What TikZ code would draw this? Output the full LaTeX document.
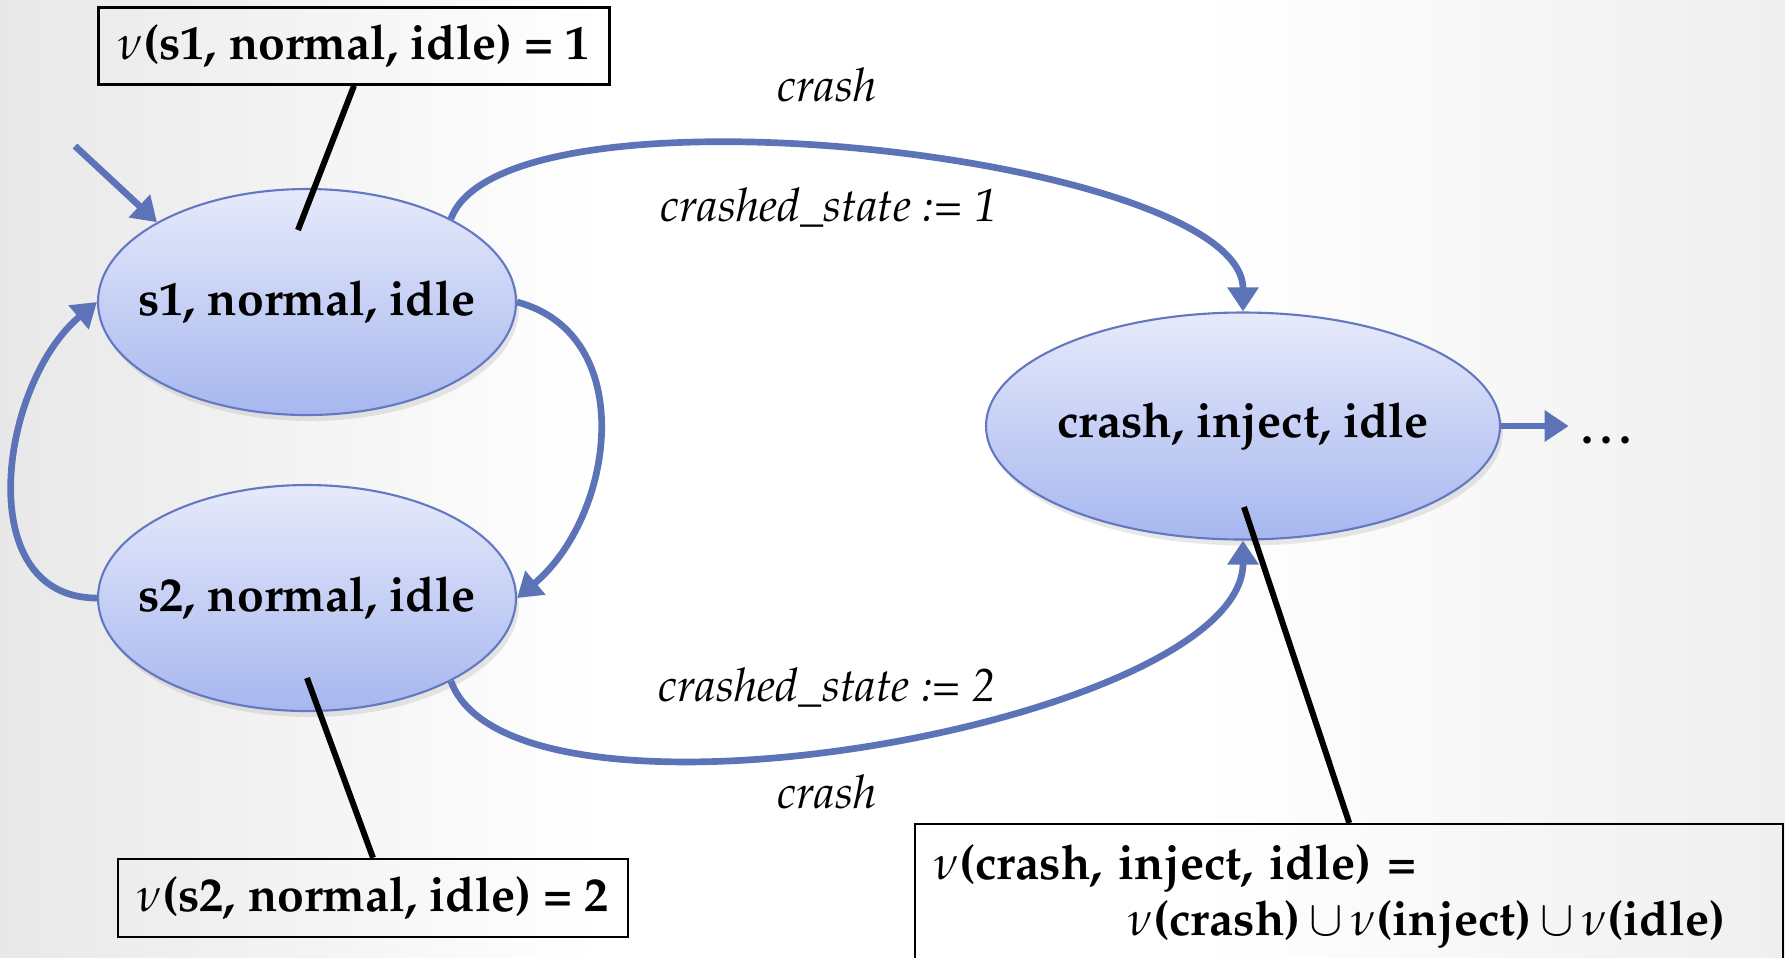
\documentclass[tikz,border=0pt]{standalone}
\usepackage[T1]{fontenc}
\usepackage{mathpazo}
\usepackage{xcolor}
\usetikzlibrary{arrows.meta,shapes,positioning,calc,shadows}

\definecolor{edgeblue}{RGB}{93,115,184}
\definecolor{stateline}{RGB}{100,120,193}
\definecolor{statetop}{RGB}{230,234,251}
\definecolor{statebot}{RGB}{167,183,239}
\definecolor{slidegray}{RGB}{232,232,232}

\newcommand{\bigbf}{\fontsize{13.7}{16}\selectfont\bfseries}
\newcommand{\bigit}{\fontsize{13.2}{16}\selectfont\itshape}

\begin{document}
\begin{tikzpicture}[
    state/.style={shape=ellipse, draw=stateline, line width=0.6pt,
        top color=statetop, bottom color=statebot,
        minimum width=4.18cm, minimum height=2.26cm, inner xsep=-6mm,
        font=\bigbf,
        drop shadow={opacity=0.18, shadow xshift=0.3mm, shadow yshift=-0.6mm}},
    valbox/.style={shape=rectangle, draw=black, line width=0.7pt, font=\bigbf},
    trans/.style={draw=edgeblue, line width=1.9pt, -{Triangle[length=2.4mm,width=3mm]}},
    tag/.style={draw=black, line width=1.7pt},
    act/.style={font=\bigit}
]
    \clip (0,0) rectangle (17.85,-9.57);
    % slide background: white, greying off towards the sides
    \fill[white] (0,0) rectangle (17.85,-9.57);
    \shade[left color=slidegray, right color=white] (0,0) rectangle (6,-9.57);
    \shade[left color=white, right color=slidegray!70] (12,0) rectangle (17.85,-9.57);

    \node[state] (s1) at (3.07,-3.02) {s1, normal, idle};
    \node[state] (s2) at (3.07,-5.98) {s2, normal, idle};
    \node[state, minimum width=5.14cm, minimum height=2.27cm] (crash) at (12.43,-4.26) {crash, inject, idle};
    \node[font=\bigbf, text height=1.5ex, text depth=0.25ex] (more) at (16.1,-4.33) {\dots};

    \node[valbox, minimum width=5.11cm, minimum height=0.77cm] (v1) at (3.54,-0.46) {$\nu$(s1, normal, idle) = 1};
    \node[valbox, minimum width=5.10cm, minimum height=0.78cm] (v2) at (3.73,-8.98) {$\nu$(s2, normal, idle) = 2};
    \node[valbox, anchor=north west, text width=8.3cm, align=left, inner xsep=0.19cm, inner ysep=0.2cm] (v3) at (9.14,-8.23)
        {$\nu$(crash, inject, idle) =\\\hspace*{1.94cm}$\nu$(crash)\,$\cup$\,$\nu$(inject)\,$\cup$\,$\nu$(idle)};

    \coordinate (init) at (0.75,-1.46);
    \coordinate (s1tag) at (2.98,-2.30);
    \coordinate (s2tag) at (3.07,-6.78);
    \coordinate (crashtag) at (12.44,-5.07);

    %\path [->](init) (s1);
    \draw[trans] (init) -- (s1.152);
    \draw[trans] (s1.east) to[out=-15, in=40, looseness=1.1] (s2.east);
    \draw[trans] (s2.west) to[out=180, in=220, looseness=1.1] (s1.west);
    \draw[trans] (s1.30) to[out=70, in=90, looseness=0.5]
        node[act, midway, xshift=-0.4cm, yshift=0.67cm] {crash}
        node[act, midway, xshift=-0.38cm, yshift=-0.56cm] {crashed\_state := 1} (crash.north);
    \draw[trans] (s2.-30) to[out=-70, in=-90, looseness=0.58]
        node[act, midway, xshift=-0.43cm, yshift=0.56cm] {crashed\_state := 2}
        node[act, midway, xshift=-0.43cm, yshift=-0.49cm] {crash} (crash.south);
    \draw[trans] (crash.east) -- (crash.east -| more.west);

    \draw[tag] (v1.south) -- (s1tag);
    \draw[tag] (v2.north) -- (s2tag);
    \draw[tag] (v3.north) -- (crashtag);
\end{tikzpicture}
\end{document}
